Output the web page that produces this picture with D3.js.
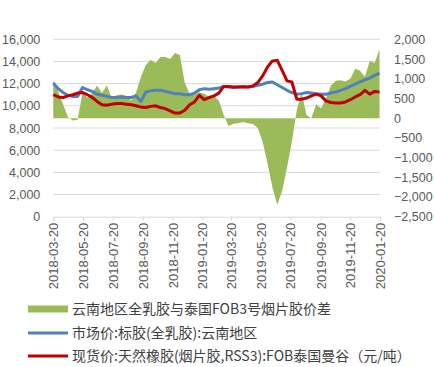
<!DOCTYPE html>
<html>
<head>
<meta charset="utf-8">
<script src="https://cdn.jsdelivr.net/npm/d3@7/dist/d3.min.js"></script>
<style>
  html, body { margin: 0; padding: 0; background: #fff; }
  svg { display: block; }
</style>
</head>
<body>
<svg id="chart" width="434" height="367"></svg>
<script>
const dates = [
  "2018-03-20","2018-03-30","2018-04-09","2018-04-19","2018-04-29","2018-05-09","2018-05-19","2018-05-29",
  "2018-06-08","2018-06-18","2018-06-28","2018-07-08","2018-07-18","2018-07-28","2018-08-07","2018-08-17",
  "2018-08-27","2018-09-06","2018-09-16","2018-09-26","2018-10-06","2018-10-16","2018-10-26","2018-11-05",
  "2018-11-15","2018-11-25","2018-12-05","2018-12-15","2018-12-25","2019-01-04","2019-01-14","2019-01-24",
  "2019-02-03","2019-02-13","2019-02-23","2019-03-05","2019-03-15","2019-03-25","2019-04-04","2019-04-14",
  "2019-04-24","2019-05-04","2019-05-14","2019-05-24","2019-06-03","2019-06-13","2019-06-23","2019-07-03",
  "2019-07-13","2019-07-23","2019-08-02","2019-08-12","2019-08-22","2019-09-01","2019-09-11","2019-09-21",
  "2019-10-01","2019-10-11","2019-10-21","2019-10-31","2019-11-10","2019-11-20","2019-11-30","2019-12-10",
  "2019-12-20","2019-12-30","2020-01-09","2020-01-19"
];
// 云南地区全乳胶与泰国FOB3号烟片胶价差 (right axis)
const spread = [
  950,680,350,30,-60,-40,650,520,640,820,640,830,500,580,600,560,
  450,650,1050,1350,1480,1400,1550,1550,1500,1650,1600,900,620,600,660,620,
  540,560,450,80,-200,-140,-130,-100,-130,-150,-250,-600,-1150,-1750,-2200,-1850,
  -1250,-600,200,650,80,0,350,250,500,820,950,960,930,1000,1250,1200,
  1050,1450,1400,1750
];
// 市场价:标胶(全乳胶):云南地区 (left axis)
const marketPrice = [
  12050,11550,11200,10950,10850,10850,11650,11450,11300,11050,10950,10850,10750,10750,10800,10750,
  10750,10900,10400,11250,11350,11400,11400,11300,11200,11100,11100,11000,11000,11150,11450,11550,
  11500,11550,11600,11750,11700,11650,11700,11750,11700,11750,11850,11950,12100,12150,11900,11650,
  11400,11200,11050,11100,11200,11150,11100,11050,11050,11150,11250,11400,11550,11750,11950,12150,
  12350,12500,12750,12950
];
// 现货价:天然橡胶(烟片胶,RSS3):FOB泰国曼谷 (left axis)
const spotPrice = [
  11000,10800,10750,10900,11000,11150,11200,11000,10750,10400,10100,10050,10150,10200,10200,10150,
  10100,10000,9900,9850,9950,10000,9850,9750,9550,9350,9350,9600,10100,10350,10950,10550,
  10750,10900,11150,11750,11750,11700,11700,11700,11700,11800,12100,12700,13500,14050,14100,13200,
  12250,12150,10600,10600,10700,10900,11050,10900,10450,10300,10250,10250,10350,10550,10800,11000,
  11400,11050,11300,11250
];
const leftTicks = [0,2000,4000,6000,8000,10000,12000,14000,16000];
const rightTicks = [-2500,-2000,-1500,-1000,-500,0,500,1000,1500,2000];
const xTickLabels = ["2018-03-20","2018-05-20","2018-07-20","2018-09-20","2018-11-20","2019-01-20",
  "2019-03-20","2019-05-20","2019-07-20","2019-09-20","2019-11-20","2020-01-20"];
const legendLabels = [
  "云南地区全乳胶与泰国FOB3号烟片胶价差",
  "市场价:标胶(全乳胶):云南地区",
  "现货价:天然橡胶(烟片胶,RSS3):FOB泰国曼谷（元/吨）"
];
const colors = ["#9BBB59", "#4F81BD", "#C00000"];

const parse = d3.timeParse("%Y-%m-%d");
const D = dates.map(parse);
const svg = d3.select("#chart");
const axisFont = "'Liberation Sans', Arial, sans-serif";
const textColor = "#595959";

const x = d3.scaleTime().domain([parse(xTickLabels[0]), parse(xTickLabels[xTickLabels.length-1])]).range([53.3, 380]);
const yL = d3.scaleLinear().domain([0, 16000]).range([216.7, 39.3]);
const yR = d3.scaleLinear().domain([-2500, 2000]).range([216.7, 39.3]);

// gridlines
svg.append("g").selectAll("line").data(leftTicks.slice(1)).join("line")
  .attr("x1", 53.3).attr("x2", 380)
  .attr("y1", d => yL(d)).attr("y2", d => yL(d))
  .attr("stroke", "#D9D9D9").attr("stroke-width", 1);

// area
const area = d3.area().x((d, i) => x(D[i])).y0(yR(0)).y1(d => yR(d));
svg.append("path").datum(spread).attr("d", area).attr("fill", colors[0]);

// lines
const lineL = d3.line().x((d, i) => x(D[i])).y(d => yL(d));
svg.append("path").datum(marketPrice).attr("d", lineL)
  .attr("fill", "none").attr("stroke", colors[1]).attr("stroke-width", 3).attr("stroke-linejoin", "round");
svg.append("path").datum(spotPrice).attr("d", lineL)
  .attr("fill", "none").attr("stroke", colors[2]).attr("stroke-width", 3).attr("stroke-linejoin", "round");

// left axis
const gL = svg.append("g").attr("transform", "translate(53.3,0)")
  .call(d3.axisLeft(yL).tickValues(leftTicks).tickFormat(d3.format(",")).tickSize(0).tickPadding(13));
gL.select(".domain").remove();
gL.selectAll("text").attr("fill", textColor).style("font-family", axisFont).style("font-size", "12.5px");

// right axis
const gR = svg.append("g").attr("transform", "translate(380,0)")
  .call(d3.axisRight(yR).tickValues(rightTicks).tickFormat(d3.format(",")).tickSize(0).tickPadding(14));
gR.select(".domain").remove();
gR.selectAll("text").attr("fill", textColor).style("font-family", axisFont).style("font-size", "12.5px");

// bottom axis
const gB = svg.append("g").attr("transform", `translate(0,${yL(0)})`)
  .call(d3.axisBottom(x).tickValues(xTickLabels.map(parse)).tickFormat(d3.timeFormat("%Y-%m-%d")).tickSize(4));
gB.select(".domain").attr("stroke", "#D9D9D9");
gB.selectAll(".tick line").attr("stroke", "#D9D9D9");
gB.selectAll("text")
  .attr("transform", "rotate(-90)")
  .attr("x", -6).attr("y", 0).attr("dy", "0.35em")
  .attr("text-anchor", "end")
  .attr("fill", textColor).style("font-family", axisFont).style("font-size", "13px");

// legend
const legendY = [309, 333, 356];
const lg = svg.append("g");
legendLabels.forEach((label, i) => {
  if (i === 0) {
    lg.append("rect").attr("x", 28).attr("y", legendY[i] - 3.5).attr("width", 40).attr("height", 7).attr("fill", colors[i]);
  } else {
    lg.append("line").attr("x1", 28).attr("x2", 68).attr("y1", legendY[i]).attr("y2", legendY[i])
      .attr("stroke", colors[i]).attr("stroke-width", 3);
  }
  lg.append("text").attr("x", 72).attr("y", legendY[i]).attr("dy", "0.35em")
    .attr("fill", "#404040")
    .style("font-family", "'Noto Sans CJK SC', sans-serif").style("font-size", "14px")
    .text(label);
});
</script>
</body>
</html>
